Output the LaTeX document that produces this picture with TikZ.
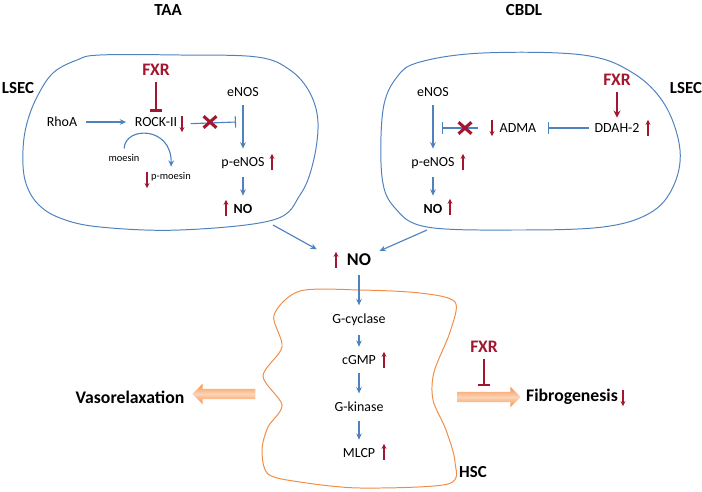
\documentclass[tikz,border=0pt]{standalone}
\usepackage{fontspec}
\setmainfont{Carlito}
\usetikzlibrary{arrows.meta,shapes.misc,shapes.arrows}

\definecolor{cellblue}{RGB}{79,129,189}
\definecolor{fxrred}{RGB}{163,22,48}
\definecolor{hscorange}{RGB}{240,140,70}
\definecolor{arrlight}{RGB}{252,212,182}
\definecolor{arrdark}{RGB}{245,145,75}

\tikzset{
  lbl/.style={font=\fontsize{9.9}{12}\selectfont, inner sep=4pt},
  lblb/.style={font=\fontsize{9.9}{12}\selectfont\bfseries, inner sep=4pt},
  tinylbl/.style={font=\fontsize{7.4}{9}\selectfont, inner sep=2pt},
  ttl/.style={font=\fontsize{12}{14}\selectfont\bfseries},
  fxr/.style={font=\fontsize{12.5}{15}\selectfont\bfseries, text=fxrred, inner sep=4pt},
  outcome/.style={font=\fontsize{12.6}{15}\selectfont\bfseries},
  nobig/.style={font=\fontsize{12.8}{15}\selectfont\bfseries, inner sep=4pt},
  upmark/.style={inner sep=0pt, minimum width=6pt, minimum height=11.5pt,
    path picture={\draw[fxrred, line width=0.9pt, -{Stealth[length=3.5pt,width=3.5pt]}]
      (path picture bounding box.south) -- (path picture bounding box.north);}},
  dnmark/.style={inner sep=0pt, minimum width=6pt, minimum height=11.5pt,
    path picture={\draw[fxrred, line width=0.9pt, -{Stealth[length=3.5pt,width=3.5pt]}]
      (path picture bounding box.north) -- (path picture bounding box.south);}},
  xmark/.style={cross out, draw=fxrred, line width=2.2pt, minimum width=7pt, minimum height=6pt, inner sep=0pt},
  flow/.style={draw=cellblue, line width=0.8pt, -{Stealth[length=4.5pt,width=4pt]}, shorten <=2pt, shorten >=2pt},
  inhib/.style={draw=cellblue, line width=0.8pt, -{Bar[width=8pt]}},
  fxrflow/.style={draw=fxrred, line width=1.5pt, -{Stealth[length=5pt,width=5pt]}},
  fxrinhib/.style={draw=fxrred, line width=1.6pt, -{Bar[width=8pt,line width=1.6pt]}},
  lsecline/.style={draw=cellblue, line width=0.7pt},
  hscline/.style={draw=hscorange, line width=0.7pt},
  bigarr/.style={single arrow, shading=axis, top color=arrdark, bottom color=arrdark, middle color=arrlight,
    inner sep=0.12cm, minimum height=1.575cm, single arrow head extend=0.13cm}
}

\begin{document}
\begin{tikzpicture}[x=0.025cm, y=-0.025cm]
  \useasboundingbox (0,0) rectangle (702,492);

  % Cell outlines
  \draw[lsecline] plot[smooth cycle, tension=0.6] coordinates {(100,55) (180,55) (257,57) (290,70) (310,93)
    (318,123) (313,163) (300,195) (273,220) (180,230) (100,227) (60,218) (37,203) (25,180) (23,150)
    (27,123) (37,97) (53,73) (77,60)};
  \draw[lsecline] plot[smooth cycle, tension=0.6] coordinates {(483,53) (583,55) (633,73) (665,105)
    (680,150) (673,187) (650,213) (603,227) (517,230) (427,227) (395,208) (382,177) (383,110)
    (397,77) (420,62)};
  \draw[hscline] plot[smooth cycle, tension=0.5] coordinates {(300,291) (360,290) (420,293) (455,302)
    (450,332) (434,372) (433,400) (446,430) (455,462) (448,484) (360,488) (300,482) (268,474)
    (262,450) (268,427) (282,405) (263,376) (282,347) (274,315)};

  % Titles
  \node[ttl] (taa) at (168,10) {TAA};
  \node[ttl] (cbdl) at (524,10) {CBDL};
  \node[ttl] (lsecL) at (18,88) {LSEC};
  \node[ttl] (lsecR) at (686,88) {LSEC};
  \node[ttl] (hsc) at (473,472) {HSC};

  % TAA cell
  \node[fxr] (fxrL) at (156,70) {FXR};
  \node[lbl] (rhoa) at (62,122) {RhoA};
  \node[lbl] (rock) at (156,122) {ROCK-II};
  \node[dnmark] (rockdn) at (182,124) {};
  \node[lbl] (enosL) at (243,92) {eNOS};
  \node[lbl] (penosL) at (243,163) {p-eNOS};
  \node[upmark] (penosLup) at (272,162) {};
  \node[lblb] (noL) at (243,209) {NO};
  \node[upmark] (noLup) at (226,208) {};
  \node[tinylbl] (moesin) at (124,158) {moesin};
  \node[tinylbl] (pmoesin) at (171,177) {p-moesin};
  \node[dnmark] (pmoesindn) at (147,180) {};
  \coordinate (barL) at (236,122);

  \draw[flow] (rhoa) -- (rock);
  \draw[fxrinhib] (fxrL) -- (rock);
  \draw[inhib, shorten <=3pt] (rockdn) -- (barL);
  \draw[flow] (enosL) -- (penosL);
  \draw[flow] (penosL) -- (noL);
  \draw[flow] (moesin.north) .. controls (125,126) and (172,126) .. (pmoesin.north);
  \node[xmark] (xL) at (210,122) {};

  % CBDL cell
  \node[fxr] (fxrR) at (617,80) {FXR};
  \node[lbl] (ddah) at (617,128) {DDAH-2};
  \node[upmark] (ddahup) at (648,128) {};
  \node[lbl] (adma) at (518,128) {ADMA};
  \node[dnmark] (admadn) at (492,128) {};
  \coordinate (barA) at (548,128);
  \coordinate (barR) at (442,128);
  \node[lbl] (enosR) at (433,92) {eNOS};
  \node[lbl] (penosR) at (433,163) {p-eNOS};
  \node[upmark] (penosRup) at (463,162) {};
  \node[lblb] (noR) at (433,209) {NO};
  \node[upmark] (noRup) at (450,207) {};

  \draw[fxrflow] (fxrR) -- (ddah);
  \draw[inhib] (ddah) -- (barA);
  \draw[inhib, shorten <=7pt] (admadn) -- (barR);
  \draw[flow] (enosR) -- (penosR);
  \draw[flow] (penosR) -- (noR);
  \node[xmark] (xR) at (465,128) {};

  % NO release
  \node[nobig] (noC) at (359,260) {NO};
  \node[upmark] (noCup) at (336,260) {};
  \coordinate (outL) at (273,225);
  \coordinate (outR) at (427,230);
  \draw[flow, shorten <=0pt, shorten >=12pt] (outL) -- (noCup);
  \draw[flow, shorten <=0pt] (outR) -- (noC);

  % HSC cascade
  \node[lbl] (gcyc) at (359,320) {G-cyclase};
  \node[lbl] (cgmp) at (359,360) {cGMP};
  \node[upmark] (cgmpup) at (384,360) {};
  \node[lbl] (gkin) at (359,407) {G-kinase};
  \node[lbl] (mlcp) at (359,453) {MLCP};
  \node[upmark] (mlcpup) at (384,452) {};

  \draw[flow] (noC) -- (gcyc);
  \draw[flow] (gcyc) -- (cgmp);
  \draw[flow] (cgmp) -- (gkin);
  \draw[flow] (gkin) -- (mlcp);

  % Outcomes
  \node[outcome] (vaso) at (130,397) {Vasorelaxation};
  \node[outcome] (fibro) at (572,397) {Fibrogenesis};
  \node[dnmark] (fibrodn) at (623,398) {};
  \node[bigarr, shape border rotate=180] (varr) at (226.5,394) {};
  \node[bigarr] (farr) at (486.5,397) {};
  \node[fxr] (fxrH) at (484,347) {FXR};
  \coordinate (barF) at (484,386);
  \draw[fxrinhib] (fxrH) -- (barF);

\end{tikzpicture}
\end{document}
